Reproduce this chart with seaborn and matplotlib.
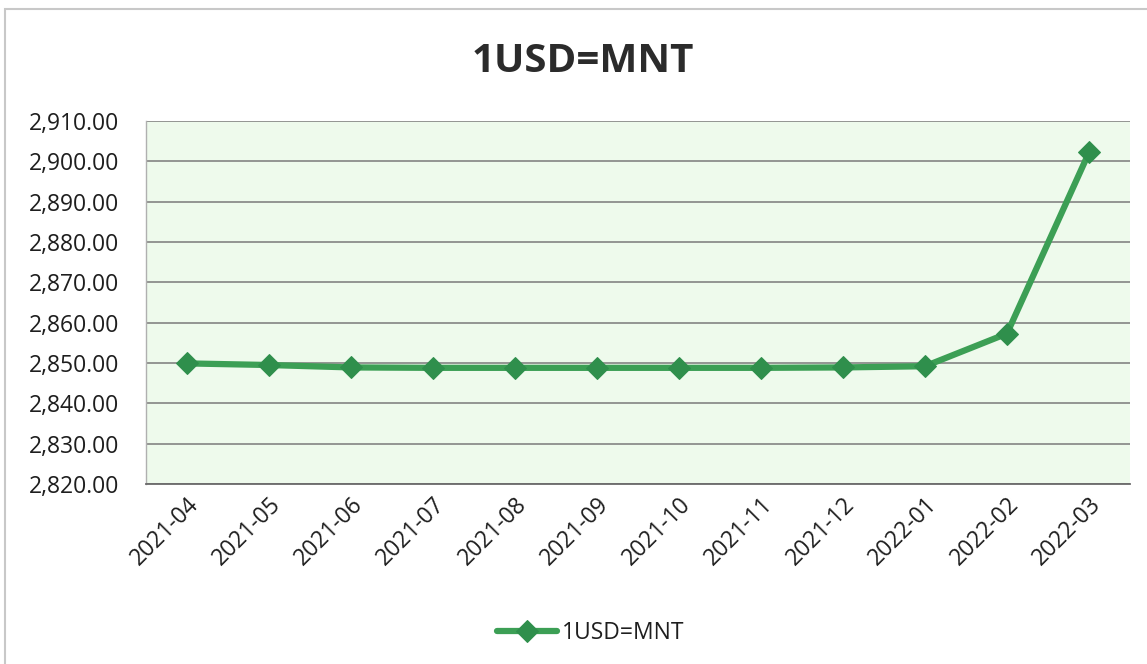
import matplotlib
matplotlib.use("Agg")
import matplotlib.pyplot as plt
import seaborn as sns
import pandas as pd
from matplotlib.ticker import FuncFormatter, MultipleLocator
from matplotlib.patches import Rectangle

# Monthly exchange rate of 1 USD in MNT
months = ["2021-04", "2021-05", "2021-06", "2021-07", "2021-08", "2021-09",
          "2021-10", "2021-11", "2021-12", "2022-01", "2022-02", "2022-03"]
rates = [2849.9, 2849.5, 2848.9, 2848.8, 2848.8, 2848.8,
         2848.8, 2848.8, 2848.9, 2849.2, 2857.3, 2902.2]
series_name = "1USD=MNT"

df = pd.DataFrame({"month": months, "rate": rates})

sns.set_theme(style="white")
plt.rcParams["font.family"] = ["Open Sans", "DejaVu Sans"]

fig = plt.figure(figsize=(11.47, 6.64), dpi=100)
ax = fig.add_axes([146 / 1147, 1 - 484 / 664, (1130 - 146) / 1147, (484 - 121) / 664])

line_color = "#3c9f55"
sns.lineplot(data=df, x="month", y="rate", ax=ax, sort=False,
             color=line_color, linewidth=4.5, marker="D", markersize=11,
             markerfacecolor="#2f8f4c", markeredgecolor="#2f8f4c",
             label=series_name, zorder=3)

ax.set_facecolor("#eefaec")
ax.set_xlim(-0.5, len(months) - 0.5)
ax.set_ylim(2820, 2910)
ax.yaxis.set_major_locator(MultipleLocator(10))
ax.yaxis.set_major_formatter(FuncFormatter(lambda v, p: f"{v:,.2f}"))
ax.grid(axis="y", color="#7a7a7a", linewidth=1.1)
ax.grid(axis="x", visible=False)
ax.set_axisbelow(True)

for side in ["top", "right"]:
    ax.spines[side].set_visible(False)
ax.spines["left"].set_color("#b0b0b0")
ax.spines["left"].set_linewidth(1.0)
ax.spines["bottom"].set_color("#6a6a6a")
ax.spines["bottom"].set_linewidth(1.3)

ax.set_xlabel("")
ax.set_ylabel("")
ax.tick_params(axis="y", labelsize=16.5, colors="#1e1e1e", length=0, pad=19)
ax.tick_params(axis="x", labelsize=16.5, colors="#1e1e1e", length=0, pad=6)
plt.setp(ax.get_xticklabels(), rotation=45, ha="right", rotation_mode="anchor")
for lab in ax.get_yticklabels():
    lab.set_horizontalalignment("right")

fig.text(0.508, 1 - 62 / 664, series_name, ha="center", va="center",
         fontsize=29, fontweight="bold", color="#2b2b2b")

ax.get_legend().remove()
fig.legend(*ax.get_legend_handles_labels(), loc="center", bbox_to_anchor=(0.515, 1 - 633 / 664),
           frameon=False, fontsize=16.5, handlelength=2.6, handletextpad=0.2,
           labelcolor="#1e1e1e")

# Outer chart frame
fig.patches.append(Rectangle((5 / 1147, -0.1), 1.2, (664 - 9) / 664 + 0.1,
                             transform=fig.transFigure, fill=False,
                             edgecolor="#c8c8c8", linewidth=1.5))

fig.savefig("out.png", dpi=100, facecolor="white")
